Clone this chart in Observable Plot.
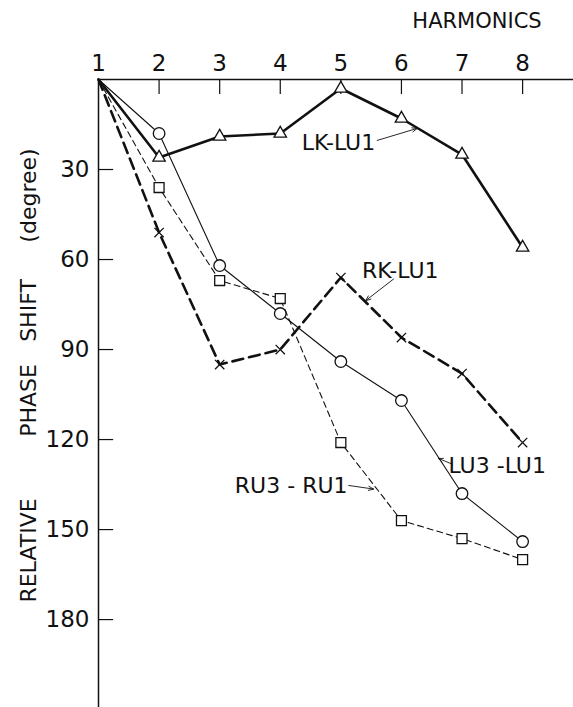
<!DOCTYPE html>
<html><head><meta charset="utf-8">
<script src="https://cdn.jsdelivr.net/npm/d3@7"></script>
<script src="https://cdn.jsdelivr.net/npm/@observablehq/plot@0.6"></script>
<style>body{margin:0;background:#fff} svg{display:block}</style>
</head><body><div id="chart"></div>
<script>
// Data
const harmonics = [1, 2, 3, 4, 5, 6, 7, 8];
const lkLu1  = [0, 26, 19, 18, 3, 13, 25, 56];
const rkLu1  = [0, 51, 95, 90, 66, 86, 98, 121];
const lu3Lu1 = [0, 18, 62, 78, 94, 107, 138, 154];
const ru3Ru1 = [0, 36, 67, 73, 121, 147, 153, 160];
const yTicks = [30, 60, 90, 120, 150, 180];
const xTickLabels = ["1", "2", "3", "4", "5", "6", "7", "8"];
const yLabelWords = ["RELATIVE", "PHASE", "SHIFT", "(degree)"];
const seriesNames = ["LK-LU1", "RK-LU1", "LU3 -LU1", "RU3 - RU1"];

// annotation anchors (data units)
const labels = [
  {name: seriesNames[0], x: 4.96, y: 21.3, x1: 5.60, y1: 20.3, x2: 6.26, y2: 16.3},
  {name: seriesNames[1], x: 5.98, y: 63.7, x1: 5.87, y1: 66.5, x2: 5.41, y2: 73.7},
  {name: seriesNames[2], x: 7.58, y: 128.7, x1: 6.84, y1: 128.2, x2: 6.61, y2: 126.3},
  {name: seriesNames[3], x: 4.18, y: 135.3, x1: 5.13, y1: 135.3, x2: 5.54, y2: 136.5}
];

const toRows = vals => harmonics.map((h, i) => ({h, v: vals[i]}));
const rLK = toRows(lkLu1), rRK = toRows(rkLu1), rLU = toRows(lu3Lu1), rRU = toRows(ru3Ru1);
const dots = rows => rows.filter(d => d.h > 1);

const font = "DejaVu Sans";
const yWord = (w, dy) => Plot.text([w], {frameAnchor: "left", textAnchor: "middle", lineAnchor: "middle", dx: -70, dy, rotate: -90, fontSize: 22, fill: "#111", fontFamily: font, letterSpacing: 1});
const chart = Plot.plot({
  width: 573, height: 707,
  marginLeft: 98, marginTop: 79, marginRight: 0, marginBottom: 0,
  style: {fontFamily: font, background: "#fff", color: "#111"},
  x: {domain: [1, 8.84]},
  y: {domain: [0, 209.3], reverse: true},
  marks: [
    Plot.axisX(harmonics, {anchor: "top", tickSize: 0, tickPadding: 9, fontSize: 23, tickFormat: (d, i) => xTickLabels[i], label: null, fill: "#111"}),
    Plot.axisY(yTicks, {anchor: "left", tickSize: 0, tickPadding: 9, fontSize: 23, label: null, fill: "#111"}),
    Plot.ruleY([0], {stroke: "#111", strokeWidth: 1.5}),
    Plot.ruleX([1], {stroke: "#111", strokeWidth: 1.5}),
    Plot.ruleX(harmonics.slice(1), {y1: 0, y2: 5, stroke: "#111", strokeWidth: 1.2}),
    Plot.ruleY(yTicks, {x1: 1, x2: 1.25, stroke: "#111", strokeWidth: 1.2}),
    Plot.text(["HARMONICS"], {frameAnchor: "top", textAnchor: "middle", lineAnchor: "middle", dx: 141, dy: -58, fontSize: 21, fill: "#111", fontFamily: font, letterSpacing: 1}),
    yWord(yLabelWords[0], 157),
    yWord(yLabelWords[1], 7),
    yWord(yLabelWords[2], -83),
    yWord(yLabelWords[3], -198),
    // lines
    Plot.line(rLU, {x: "h", y: "v", stroke: "#111", strokeWidth: 1.1}),
    Plot.line(rRU, {x: "h", y: "v", stroke: "#111", strokeWidth: 1.1, strokeDasharray: "6,4"}),
    Plot.line(rRK, {x: "h", y: "v", stroke: "#111", strokeWidth: 2.6, strokeDasharray: "11,6"}),
    Plot.line(rLK, {x: "h", y: "v", stroke: "#111", strokeWidth: 2.6}),
    // markers
    Plot.dot(dots(rLU), {x: "h", y: "v", symbol: "circle", r: 5.8, fill: "#fff", stroke: "#111", strokeWidth: 1.3}),
    Plot.dot(dots(rRU), {x: "h", y: "v", symbol: "square", r: 5.6, fill: "#fff", stroke: "#111", strokeWidth: 1.3}),
    Plot.dot(dots(rLK), {x: "h", y: "v", symbol: "triangle", r: 4.6, fill: "#fff", stroke: "#111", strokeWidth: 1.3}),
    Plot.dot(dots(rRK), {x: "h", y: "v", symbol: "times", r: 4.3, stroke: "#111", strokeWidth: 1.3}),
    // annotations
    Plot.arrow(labels, {x1: "x1", y1: "y1", x2: "x2", y2: "y2", stroke: "#111", strokeWidth: 0.9, headLength: 9, headAngle: 45}),
    Plot.text(labels, {x: "x", y: "y", text: "name", fontSize: 22, fill: "#111", fontFamily: font})
  ]
});
document.getElementById("chart").appendChild(chart);
</script>
</body></html>
